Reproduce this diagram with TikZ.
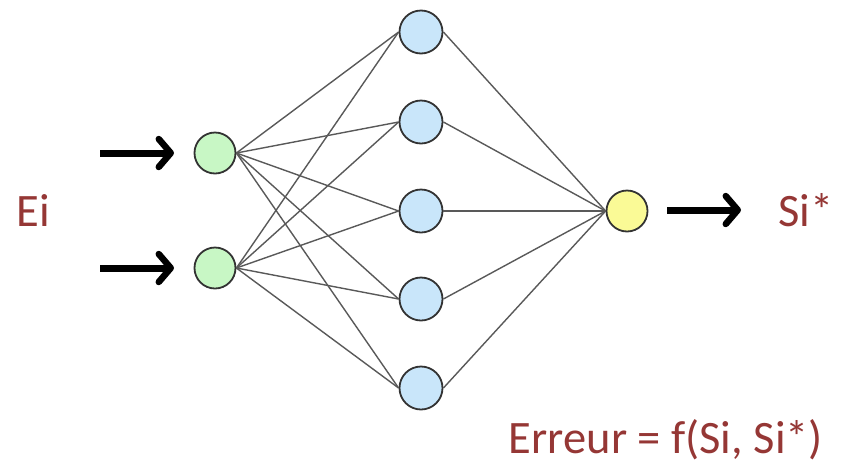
\documentclass[tikz,border=0pt]{standalone}
\usepackage{fontspec}
\setmainfont{Carlito}
\usetikzlibrary{arrows.meta}
\definecolor{labelred}{HTML}{953735}
\definecolor{ingreen}{HTML}{C8F7C5}
\definecolor{hidblue}{HTML}{C9E6FA}
\definecolor{outyellow}{HTML}{FAFA96}
\tikzset{
  x=1pt, y=-1pt,
  neuron/.style={circle, draw=black!80, line width=1.8pt, minimum size=41pt, inner sep=0pt},
  link/.style={draw=black!65, line width=1.4pt},
  feed/.style={line width=7pt, line cap=butt, -{Straight Barb[length=12pt, width=28pt, line width=6.5pt, round]}},
  lbl/.style={text=labelred, font=\fontsize{46.5}{50}\selectfont, inner sep=0pt}
}
\begin{document}
\begin{tikzpicture}
\useasboundingbox (0,0) rectangle (843,464);
% input layer
\node[neuron, fill=ingreen] (i1) at (215,153) {};
\node[neuron, fill=ingreen] (i2) at (215,268) {};
% hidden layer
\foreach \k/\y in {1/32,2/122,3/211,4/299,5/388}
  \node[neuron, fill=hidblue, minimum size=43pt] (h\k) at (421,\y) {};
% output neuron
\node[neuron, fill=outyellow] (o) at (627,211) {};
% weights
\foreach \a in {1,2}
  \foreach \k in {1,...,5}
    \draw[link] (i\a.east) -- (h\k.west);
\foreach \k in {1,...,5}
  \draw[link] (h\k.east) -- (o.west);
% input / output arrows
\coordinate (a1) at (100,153);
\coordinate (a2) at (100,268);
\coordinate (b1) at (174,153);
\coordinate (b2) at (174,268);
\draw[feed] (a1) -- (b1);
\draw[feed] (a2) -- (b2);
\coordinate (c) at (667,210);
\coordinate (d) at (741,210);
\draw[feed] (c) -- (d);
% labels
\node[lbl] (ei) at (33,210) {Ei};
\node[lbl] (si) at (806,210) {Si*};
\node[lbl] (err) at (666,440) {Erreur = f(Si, Si*)};
\end{tikzpicture}
\end{document}
